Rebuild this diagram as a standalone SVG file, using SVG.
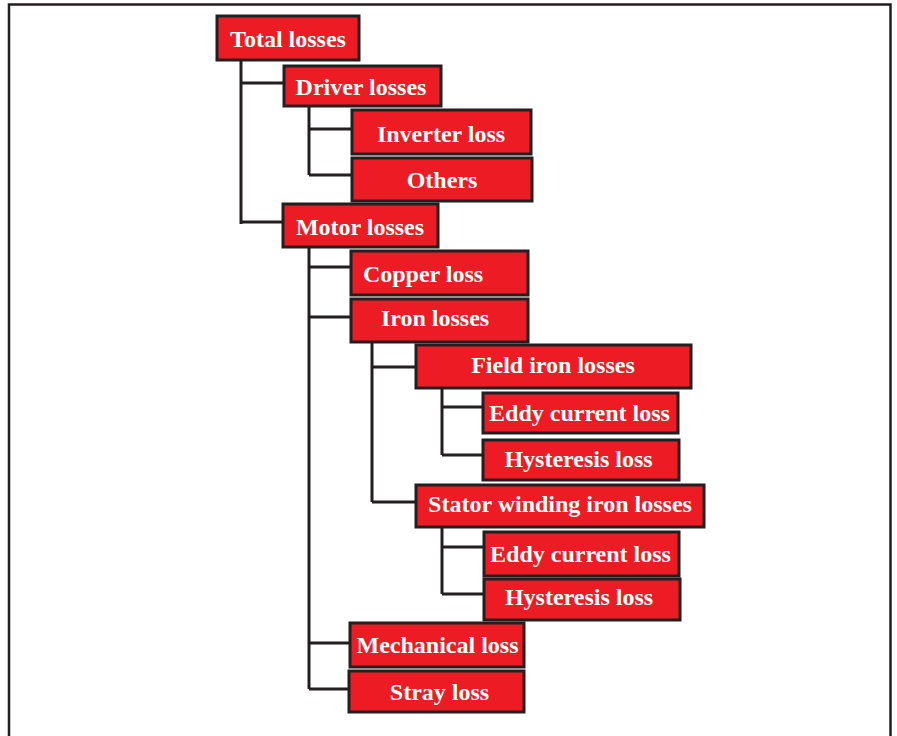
<svg xmlns="http://www.w3.org/2000/svg" width="897" height="736" viewBox="0 0 897 736">
<style>
.n rect{fill:#ed1c24;stroke:#231f20;stroke-width:3}
.n text{fill:#fff;font-family:"Liberation Serif","Times New Roman",serif;font-weight:bold;font-size:24px;text-anchor:middle}
.c path{fill:none;stroke:#231f20;stroke-width:3}
</style>
<rect width="897" height="736" fill="#fff"/>
<path d="M9,740 V4.5 H890.5 V740" fill="none" stroke="#231f20" stroke-width="2.5"/>
<g class="c" id="connectors">
<path d="M241,60 V224 M241,83 H284 M241,222 H283"/>
<path d="M309,106 V175 M309,129 H352 M309,175 H352"/>
<path d="M309,247 V689 M309,267 H351 M309,317 H351 M309,643 H350 M309,689 H349"/>
<path d="M372,342 V502 M372,367 H416 M372,502 H416"/>
<path d="M442,388 V455 M442,407 H483 M442,455 H483"/>
<path d="M442,527 V594 M442,547 H484 M442,594 H484"/>
</g>
<g class="n" id="total"><rect x="217" y="16" width="142" height="44"/><text x="288" y="47">Total losses</text></g>
<g class="n" id="driver"><rect x="284" y="66" width="157" height="40"/><text x="361" y="95">Driver losses</text></g>
<g class="n" id="inverter"><rect x="352" y="110" width="179" height="44"/><text x="441" y="142">Inverter loss</text></g>
<g class="n" id="others"><rect x="352" y="158" width="180" height="43"/><text x="442" y="188">Others</text></g>
<g class="n" id="motor"><rect x="283" y="204" width="155" height="43"/><text x="360" y="235">Motor losses</text></g>
<g class="n" id="copper"><rect x="351" y="251" width="177" height="44"/><text x="423" y="282">Copper loss</text></g>
<g class="n" id="iron"><rect x="351" y="299" width="177" height="43"/><text x="435" y="326">Iron losses</text></g>
<g class="n" id="field"><rect x="416" y="345" width="275" height="43"/><text x="553" y="373">Field iron losses</text></g>
<g class="n" id="eddy1"><rect x="483" y="393" width="195" height="40"/><text x="579.5" y="421">Eddy current loss</text></g>
<g class="n" id="hyst1"><rect x="483" y="440" width="196" height="40"/><text x="578.5" y="467">Hysteresis loss</text></g>
<g class="n" id="stator"><rect x="416" y="485" width="288" height="42"/><text x="560" y="512">Stator winding iron losses</text></g>
<g class="n" id="eddy2"><rect x="484" y="532" width="195" height="44"/><text x="580.5" y="562">Eddy current loss</text></g>
<g class="n" id="hyst2"><rect x="484" y="579" width="196" height="41"/><text x="579" y="605">Hysteresis loss</text></g>
<g class="n" id="mech"><rect x="350" y="623" width="174" height="44"/><text x="437.5" y="653">Mechanical loss</text></g>
<g class="n" id="stray"><rect x="349" y="671" width="175" height="41"/><text x="439.5" y="700">Stray loss</text></g>
</svg>
